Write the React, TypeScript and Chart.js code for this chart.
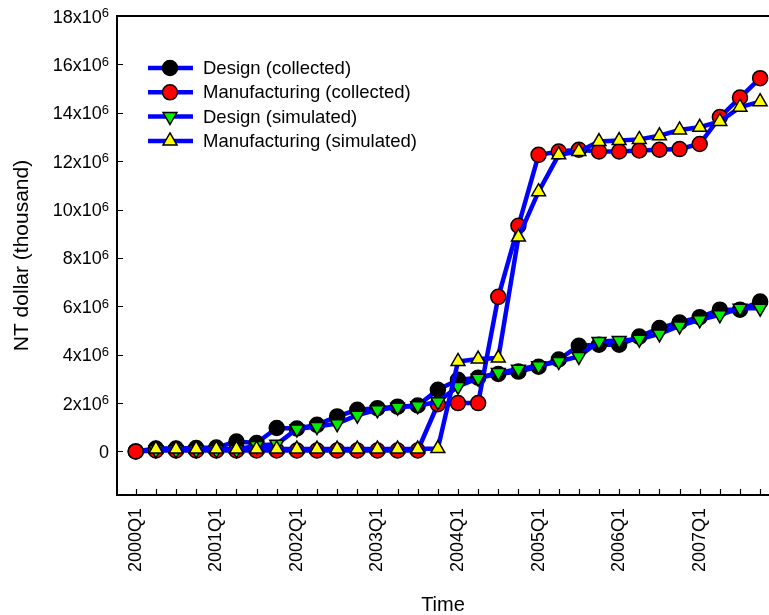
import React, { useEffect, useRef } from 'react';
import { Chart, registerables } from 'chart.js';

Chart.register(...registerables);

// Quarters on the x axis (index 0 = 2000Q1)
const quarters = [
  '2000Q1', '2000Q2', '2000Q3', '2000Q4',
  '2001Q1', '2001Q2', '2001Q3', '2001Q4',
  '2002Q1', '2002Q2', '2002Q3', '2002Q4',
  '2003Q1', '2003Q2', '2003Q3', '2003Q4',
  '2004Q1', '2004Q2', '2004Q3', '2004Q4',
  '2005Q1', '2005Q2', '2005Q3', '2005Q4',
  '2006Q1', '2006Q2', '2006Q3', '2006Q4',
  '2007Q1', '2007Q2', '2007Q3', '2007Q4',
];

// Values in millions of NT dollar (thousand) i.e. x10^6
const designCollected = [
  0, 0.12, 0.12, 0.14, 0.16, 0.41, 0.35, 0.97,
  0.95, 1.1, 1.45, 1.72, 1.79, 1.85, 1.9, 2.55,
  2.96, 3.05, 3.2, 3.3, 3.5, 3.8, 4.37, 4.41,
  4.41, 4.75, 5.1, 5.33, 5.55, 5.86, 5.86, 6.2,
];
const manufacturingCollected = [
  0, 0.04, 0.04, 0.04, 0.04, 0.04, 0.04, 0.04,
  0.04, 0.04, 0.04, 0.04, 0.04, 0.04, 0.04, 1.95,
  2.0, 2.0, 6.39, 9.33, 12.26, 12.4, 12.47, 12.4,
  12.4, 12.44, 12.47, 12.5, 12.71, 13.82, 14.63, 15.43,
];
const designSimulated = [
  null, 0.07, 0.07, 0.07, 0.07, 0.07, 0.25, 0.3,
  0.93, 1.03, 1.15, 1.5, 1.72, 1.83, 1.89, 2.05,
  2.69, 3.03, 3.26, 3.4, 3.54, 3.72, 3.93, 4.55,
  4.59, 4.64, 4.86, 5.19, 5.44, 5.65, 5.92, 5.92,
];
const manufacturingSimulated = [
  null, 0.1, 0.1, 0.1, 0.1, 0.1, 0.1, 0.1,
  0.1, 0.1, 0.1, 0.1, 0.1, 0.1, 0.1, 0.12,
  3.72, 3.82, 3.86, 8.86, 10.74, 12.26, 12.4, 12.81,
  12.85, 12.9, 13.05, 13.29, 13.4, 13.64, 14.23, 14.46,
];

// y tick values (x10^6) with their mantissa labels; the exponent is drawn as superscript
const yTickValues = [0, 2, 4, 6, 8, 10, 12, 14, 16, 18];
const yTickMantissas = ['0', '2x10', '4x10', '6x10', '8x10', '10x10', '12x10', '14x10', '16x10', '18x10'];
const yTickExponents = ['', '6', '6', '6', '6', '6', '6', '6', '6', '6'];

const seriesLabels = [
  'Design (collected)',
  'Manufacturing (collected)',
  'Design (simulated)',
  'Manufacturing (simulated)',
];

const FONT = "'Liberation Sans', Arial, Helvetica, sans-serif";
const LINE_BLUE = '#0000ff';

const toPoints = (arr: (number | null)[]) => arr.map((v, i) => ({ x: i, y: v }));

function drawMarker(ctx: CanvasRenderingContext2D, style: string, rot: number, x: number, y: number, r: number, fill: string) {
  ctx.save();
  ctx.fillStyle = fill;
  ctx.strokeStyle = '#000';
  ctx.lineWidth = 1.5;
  ctx.beginPath();
  if (style === 'circle') {
    ctx.arc(x, y, r, 0, Math.PI * 2);
  } else {
    const base = (rot * Math.PI) / 180;
    for (let k = 0; k < 3; k++) {
      const a = base + (k * 2 * Math.PI) / 3;
      const px = x + Math.sin(a) * r;
      const py = y - Math.cos(a) * r;
      if (k === 0) ctx.moveTo(px, py);
      else ctx.lineTo(px, py);
    }
    ctx.closePath();
  }
  ctx.fill();
  ctx.stroke();
  ctx.restore();
}

const framePlugin = {
  id: 'frameAndLegend',
  afterDraw(chart: any) {
    const { ctx, chartArea } = chart;
    const { left, top, right, bottom } = chartArea;
    const xs = chart.scales.x;
    const ys = chart.scales.y;
    ctx.save();
    ctx.strokeStyle = '#000';
    ctx.lineWidth = 2;
    ctx.beginPath();
    ctx.moveTo(right + 2, top);
    ctx.lineTo(left, top);
    ctx.lineTo(left, bottom);
    ctx.lineTo(right + 2, bottom);
    ctx.stroke();

    ctx.lineWidth = 1.2;
    ctx.beginPath();
    for (const t of xs.ticks) {
      const px = Math.round(xs.getPixelForValue(t.value)) + 0.5;
      ctx.moveTo(px, bottom);
      ctx.lineTo(px, bottom - 6);
    }
    for (const t of ys.ticks) {
      const py = Math.round(ys.getPixelForValue(t.value)) + 0.5;
      ctx.moveTo(left, py);
      ctx.lineTo(left + 6, py);
    }
    ctx.stroke();

    // y tick labels with superscript exponent
    ctx.fillStyle = '#000';
    ctx.textBaseline = 'alphabetic';
    ctx.textAlign = 'left';
    for (const t of ys.ticks) {
      const idx = yTickValues.indexOf(Number(t.value));
      if (idx < 0) continue;
      const py = ys.getPixelForValue(t.value);
      const mant = yTickMantissas[idx];
      const exp = yTickExponents[idx];
      ctx.font = `13px ${FONT}`;
      const ew = exp ? ctx.measureText(exp).width : 0;
      ctx.font = `18px ${FONT}`;
      const mw = ctx.measureText(mant).width;
      const xEnd = left - 8;
      ctx.fillText(mant, xEnd - ew - mw, py + 6.5);
      if (exp) {
        ctx.font = `13px ${FONT}`;
        ctx.fillText(exp, xEnd - ew, py + 1.2);
      }
    }

    // legend
    const dsets = chart.data.datasets;
    ctx.font = `18.5px ${FONT}`;
    ctx.textBaseline = 'middle';
    ctx.textAlign = 'left';
    dsets.forEach((ds: any, k: number) => {
      const ry = top + 52 + 24.3 * k;
      ctx.strokeStyle = LINE_BLUE;
      ctx.lineWidth = 4.5;
      ctx.beginPath();
      ctx.moveTo(left + 31, ry);
      ctx.lineTo(left + 76, ry);
      ctx.stroke();
      drawMarker(ctx, ds.pointStyle, ds.pointRotation || 0, left + 53, ry, ds.pointRadius, ds.pointBackgroundColor);
      ctx.fillStyle = '#000';
      ctx.fillText(ds.label, left + 86, ry + 1);
    });
    ctx.restore();
  },
};

export default function App() {
  const canvasRef = useRef<HTMLCanvasElement | null>(null);

  useEffect(() => {
    if (!canvasRef.current) return;
    const common = {
      borderColor: LINE_BLUE,
      borderWidth: 4.5,
      pointBorderColor: '#000',
      pointBorderWidth: 1.5,
      tension: 0,
      fill: false,
    };
    const chart = new Chart(canvasRef.current, {
      type: 'line',
      data: {
        datasets: [
          {
            ...common,
            label: seriesLabels[0],
            data: toPoints(designCollected),
            pointStyle: 'circle',
            pointRadius: 7.5,
            pointBackgroundColor: '#000000',
            order: 4,
          },
          {
            ...common,
            label: seriesLabels[1],
            data: toPoints(manufacturingCollected),
            pointStyle: 'circle',
            pointRadius: 7.5,
            pointBackgroundColor: '#ff0000',
            order: 3,
          },
          {
            ...common,
            label: seriesLabels[2],
            data: toPoints(designSimulated),
            pointStyle: 'triangle',
            pointRotation: 180,
            pointRadius: 8,
            pointBackgroundColor: '#00ee00',
            order: 2,
          },
          {
            ...common,
            label: seriesLabels[3],
            data: toPoints(manufacturingSimulated),
            pointStyle: 'triangle',
            pointRadius: 8,
            pointBackgroundColor: '#ffff00',
            order: 1,
          },
        ] as any,
      },
      options: {
        animation: false,
        responsive: false,
        layout: { autoPadding: false, padding: { top: 16, left: 0, right: 0, bottom: 0 } },
        plugins: {
          legend: { display: false },
          tooltip: { enabled: false },
        },
        scales: {
          x: {
            type: 'linear',
            min: -0.93,
            max: 31.44,
            grid: { display: false, drawTicks: false },
            border: { display: false },
            afterBuildTicks: (s: any) => {
              s.ticks = quarters.map((_, i) => ({ value: i }));
            },
            afterFit: (s: any) => {
              s.height = 120;
              s.paddingLeft = 0;
              s.paddingRight = 0;
            },
            ticks: {
              autoSkip: false,
              minRotation: 90,
              maxRotation: 90,
              padding: 13,
              color: '#000',
              font: { family: FONT, size: 18 },
              callback: (value: any) => {
                const q = quarters[Math.round(Number(value))];
                return q && q.endsWith('Q1') ? q : '';
              },
            },
            title: {
              display: true,
              text: 'Time',
              color: '#000',
              font: { family: FONT, size: 20 },
              padding: { top: 0, bottom: -2 },
            },
          },
          y: {
            type: 'linear',
            min: -1.8,
            max: 18,
            grid: { display: false, drawTicks: false },
            border: { display: false },
            afterBuildTicks: (s: any) => {
              s.ticks = yTickValues.map((v) => ({ value: v }));
            },
            afterFit: (s: any) => {
              s.width = 117;
              s.paddingTop = 0;
              s.paddingBottom = 0;
            },
            ticks: { display: false },
            title: {
              display: true,
              text: 'NT dollar (thousand)',
              color: '#000',
              font: { family: FONT, size: 21 },
              padding: { top: 10, bottom: 0 },
            },
          },
        },
      } as any,
      plugins: [framePlugin],
    });
    return () => chart.destroy();
  }, []);

  return (
    <div style={{ position: 'fixed', left: 0, top: 0, width: 769, height: 615, background: '#fff' }}>
      <canvas ref={canvasRef} width={769} height={615} style={{ display: 'block' }} />
    </div>
  );
}
